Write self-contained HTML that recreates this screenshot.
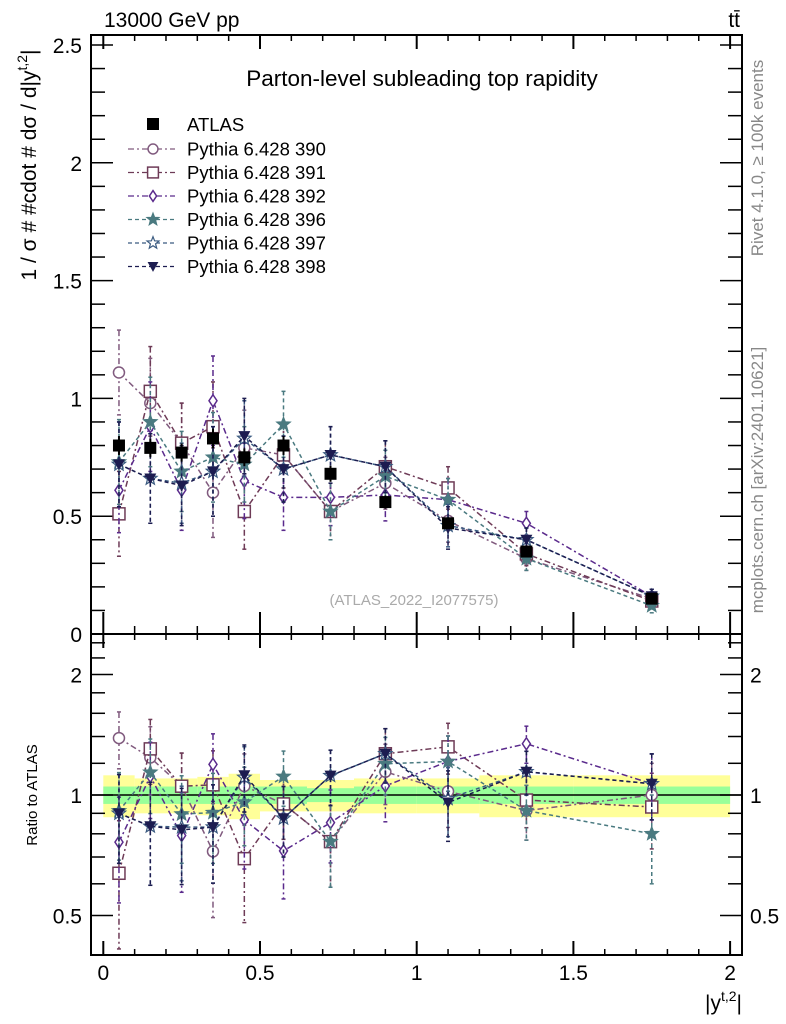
<!DOCTYPE html>
<html><head><meta charset="utf-8">
<style>
html,body{margin:0;padding:0;background:#fff;}
svg{display:block;font-family:"Liberation Sans",sans-serif;}
</style></head>
<body>
<svg id="chart" width="786" height="1024" viewBox="0 0 786 1024">
<text x="104" y="27" font-size="21">13000 GeV pp</text>
<text x="740" y="27" font-size="21" text-anchor="end">tt̄</text>
<text x="422" y="86" font-size="22.5" text-anchor="middle">Parton-level subleading top rapidity</text>
<text x="414" y="605" font-size="15" fill="#aaa" text-anchor="middle">(ATLAS_2022_I2077575)</text>
<text transform="translate(763,158) rotate(-90)" font-size="17" fill="#888" text-anchor="middle">Rivet 4.1.0, ≥ 100k events</text>
<text transform="translate(763,480) rotate(-90)" font-size="17" fill="#888" text-anchor="middle">mcplots.cern.ch [arXiv:2401.10621]</text>
<text transform="translate(36,165) rotate(-90)" font-size="21" text-anchor="middle">1 / σ # #cdot # dσ / d|y<tspan dy="-9" font-size="14">t,2</tspan><tspan dy="9">|</tspan></text>
<text transform="translate(37,795) rotate(-90)" font-size="15" text-anchor="middle">Ratio to ATLAS</text>
<text x="742" y="1010" font-size="21" text-anchor="end">|y<tspan dy="-9" font-size="14">t,2</tspan><tspan dy="9">|</tspan></text>
<g id="g"></g>
</svg>
<script>
const edges=[0,0.1,0.2,0.3,0.4,0.5,0.65,0.8,1.0,1.2,1.5,2.0];
const centers=[0.05,0.15,0.25,0.35,0.45,0.575,0.725,0.9,1.1,1.35,1.75];
const atlas=[0.80,0.79,0.77,0.83,0.75,0.80,0.68,0.56,0.47,0.35,0.15];
const bandYellow=[0.12,0.10,0.10,0.11,0.13,0.09,0.09,0.10,0.10,0.12,0.12];
const bandGreen=[0.05,0.05,0.05,0.05,0.05,0.05,0.04,0.05,0.05,0.05,0.05];
const s390=[1.11,0.98,0.81,0.60,0.79,0.76,0.52,0.64,0.48,0.32,0.15];
const s391=[0.51,1.03,0.81,0.88,0.52,0.76,0.52,0.71,0.62,0.34,0.14];
const s392=[0.61,0.88,0.61,0.99,0.65,0.58,0.58,0.59,0.57,0.47,0.16];
const s396=[0.73,0.90,0.69,0.75,0.72,0.89,0.52,0.67,0.57,0.32,0.12];
const s397=[0.72,0.66,0.64,0.69,0.83,0.70,0.76,0.71,0.46,0.40,0.16];
const s398=[0.72,0.66,0.63,0.69,0.84,0.70,0.76,0.71,0.45,0.40,0.16];
const mcErr=[0.18,0.19,0.17,0.19,0.16,0.14,0.12,0.11,0.09,0.05,0.03];
const names=["390","391","392","396","397","398"];
const yTicks=[0.5,1,1.5,2,2.5];
const yTickLabels=["0.5","1","1.5","2","2.5"];
const rTicks=[0.5,1,2];
const rTickLabels=["0.5","1","2"];
const xTicks=[0,0.5,1,1.5,2];
const xTickLabels=["0","0.5","1","1.5","2"];

const NS="http://www.w3.org/2000/svg";
const G=document.getElementById('g');
const L=91,R=742,T=35,MB=634,RB=955;
const X=v=>103.3+v*313.4;
const Y=v=>MB-v*235.6;
const YR=v=>795-120.5*Math.log2(v);
function el(t,a,p){const e=document.createElementNS(NS,t);for(const k in a)e.setAttribute(k,a[k]);(p||G).appendChild(e);return e;}

const bands=el('g',{});


for(let i=0;i<centers.length;i++){
  const r=el('rect',{x:X(edges[i]),y:YR(1+bandYellow[i]),width:X(edges[i+1])-X(edges[i]),height:YR(1-bandYellow[i])-YR(1+bandYellow[i]),fill:'#ffff99'},bands);
  
  
  const g2=el('rect',{x:X(edges[i]),y:YR(1+bandGreen[i]),width:X(edges[i+1])-X(edges[i]),height:YR(1-bandGreen[i])-YR(1+bandGreen[i]),fill:'#99ff99'},bands);
  
  
}
const one=el('line',{x1:L,x2:R,y1:YR(1),y2:YR(1),stroke:'#000','stroke-width':1.5});



const f1=el('rect',{x:L,y:T,width:R-L,height:MB-T,fill:'none',stroke:'#000','stroke-width':2});


const f2=el('rect',{x:L,y:MB,width:R-L,height:RB-MB,fill:'none',stroke:'#000','stroke-width':2});



for(let k=0;k<=20;k++){const v=k*0.1,x=X(v),big=k%5==0,len=big?22:8,len2=big?14:6;
  [[MB,-1,len],[T,1,len2],[RB,-1,big?14:6],[MB,1,big?14:6]].forEach(([y0,d,l])=>{const t=el('line',{x1:x,x2:x,y1:y0,y2:y0+d*l,stroke:'#000','stroke-width':big?2:1.5});
    
    });}
xTicks.forEach((v,i)=>{const t=el('text',{x:X(v),y:980,'font-size':21,'text-anchor':'middle'});t.textContent=xTickLabels[i];
  
  });
for(let k=1;k<=26;k++){const v=k*0.1,y=Y(v);if(y<T)continue;const big=k%5==0;
  [[L,1],[R,-1]].forEach(([x0,d])=>{const t=el('line',{x1:x0,x2:x0+d*(big?22:14),y1:y,y2:y,stroke:'#000','stroke-width':1.5});
    
    });}
yTicks.forEach((v,i)=>{const t=el('text',{x:82,y:Y(v)+8,'font-size':21,'text-anchor':'end'});t.textContent=yTickLabels[i];
  
  });
const z=el('text',{x:82,y:642,'font-size':21,'text-anchor':'end'});z.textContent='0';


[0.5,0.6,0.7,0.8,0.9,1,1.2,1.4,1.6,1.8,2,2.2,2.4].forEach(v=>{const y=YR(v);const big=rTicks.includes(v);
  [[L,1],[R,-1]].forEach(([x0,d])=>{const t=el('line',{x1:x0,x2:x0+d*(big?22:14),y1:y,y2:y,stroke:'#000','stroke-width':1.5});
    
    });});
rTicks.forEach((v,i)=>{[[82,'end'],[750,'start']].forEach(([x,a])=>{const t=el('text',{x:x,y:YR(v)+8,'font-size':21,'text-anchor':a});t.textContent=rTickLabels[i];
  
  });});

const series=[s390,s391,s392,s396,s397,s398];
const colors=['#805a7e','#6e3b57','#5a2a8c','#4a7a80','#3a5a80','#1c1c50'];
const dashes=['6,3,2,3','6,3,2,3','6,3,2,3','4,3','4,3','4,3'];
const markers=['circle','square','diamond','star','ostar','tri'];
function marker(p,type,x,y,c,s){
  s=s||1;
  if(type=='circle')return el('circle',{cx:x,cy:y,r:5.5*s,fill:'#fff',stroke:c,'stroke-width':1.5},p);
  if(type=='square')return el('rect',{x:x-6*s,y:y-6*s,width:12*s,height:12*s,fill:'#fff',stroke:c,'stroke-width':1.5},p);
  if(type=='diamond')return el('polygon',{points:`${x},${y-6*s} ${x+4*s},${y} ${x},${y+6*s} ${x-4*s},${y}`,fill:'#fff',stroke:c,'stroke-width':1.5},p);
  if(type=='tri')return el('polygon',{points:`${x-6*s},${y-5*s} ${x+6*s},${y-5*s} ${x},${y+6*s}`,fill:c},p);
  let pts=[];for(let k=0;k<10;k++){const a=-Math.PI/2+k*Math.PI/5,r=(k%2?3:7)*s;pts.push((x+r*Math.cos(a))+','+(y+r*Math.sin(a)));}
  return el('polygon',{points:pts.join(' '),fill:type=='star'?c:'#fff',stroke:c,'stroke-width':1.2},p);
}
series.forEach((s,si)=>{
  const c=colors[si];
  const g=el('g',{});
  
  
  const pm=s.map((v,i)=>X(centers[i])+','+Y(v)).join(' ');
  const pr=s.map((v,i)=>X(centers[i])+','+YR(v/atlas[i])).join(' ');
  const l1=el('polyline',{points:pm,fill:'none',stroke:c,'stroke-width':1.5,'stroke-dasharray':dashes[si]},g);
  
  
  const l2=el('polyline',{points:pr,fill:'none',stroke:c,'stroke-width':1.5,'stroke-dasharray':dashes[si]},g);
  
  
  s.forEach((v,i)=>{const x=X(centers[i]);
    const e=mcErr[i];
    [[Y(v+e),Y(Math.max(v-e,0.01))],[YR((v+e)/atlas[i]),YR(Math.max(v-e,0.01)/atlas[i])]].forEach(([a,b])=>{
      const eb=el('line',{x1:x,x2:x,y1:Math.max(a,T),y2:b,stroke:c,'stroke-width':1.5,'stroke-dasharray':dashes[si]},g);
      
      
      [a,b].forEach(yy=>{if(yy<T)return;const cap=el('line',{x1:x-2,x2:x+2,y1:yy,y2:yy,stroke:c,'stroke-width':1.5},g);
        
        });
    });
    const m=marker(g,markers[si],x,Y(v),c);
    
    
    const m2=marker(g,markers[si],x,YR(v/atlas[i]),c);
    
    
  });
});
const ag=el('g',{});


atlas.forEach((v,i)=>{const x=X(centers[i]),y=Y(v);
  const eb=el('line',{x1:x,x2:x,y1:Y(v*1.05),y2:Y(v*0.95),stroke:'#000','stroke-width':2},ag);
  
  
  const r=el('rect',{x:x-6,y:y-6,width:12,height:12,fill:'#000'},ag);
  
  
});
const lg=el('g',{});


const la=el('rect',{x:147,y:118,width:12,height:12,fill:'#000'},lg);


const lt=el('text',{x:187,y:131,'font-size':18.5},lg);lt.textContent='ATLAS';


names.forEach((n,i)=>{const y=149+i*23.5;
  const ln=el('line',{x1:128,x2:175,y1:y,y2:y,stroke:colors[i],'stroke-width':1.2,'stroke-dasharray':dashes[i]},lg);
  
  
  const m=marker(lg,markers[i],153,y,colors[i],0.9);
  
  
  const t=el('text',{x:187,y:y+6.5,'font-size':18.5},lg);t.textContent='Pythia 6.428 '+n;
  
  
});
</script>
</body></html>
